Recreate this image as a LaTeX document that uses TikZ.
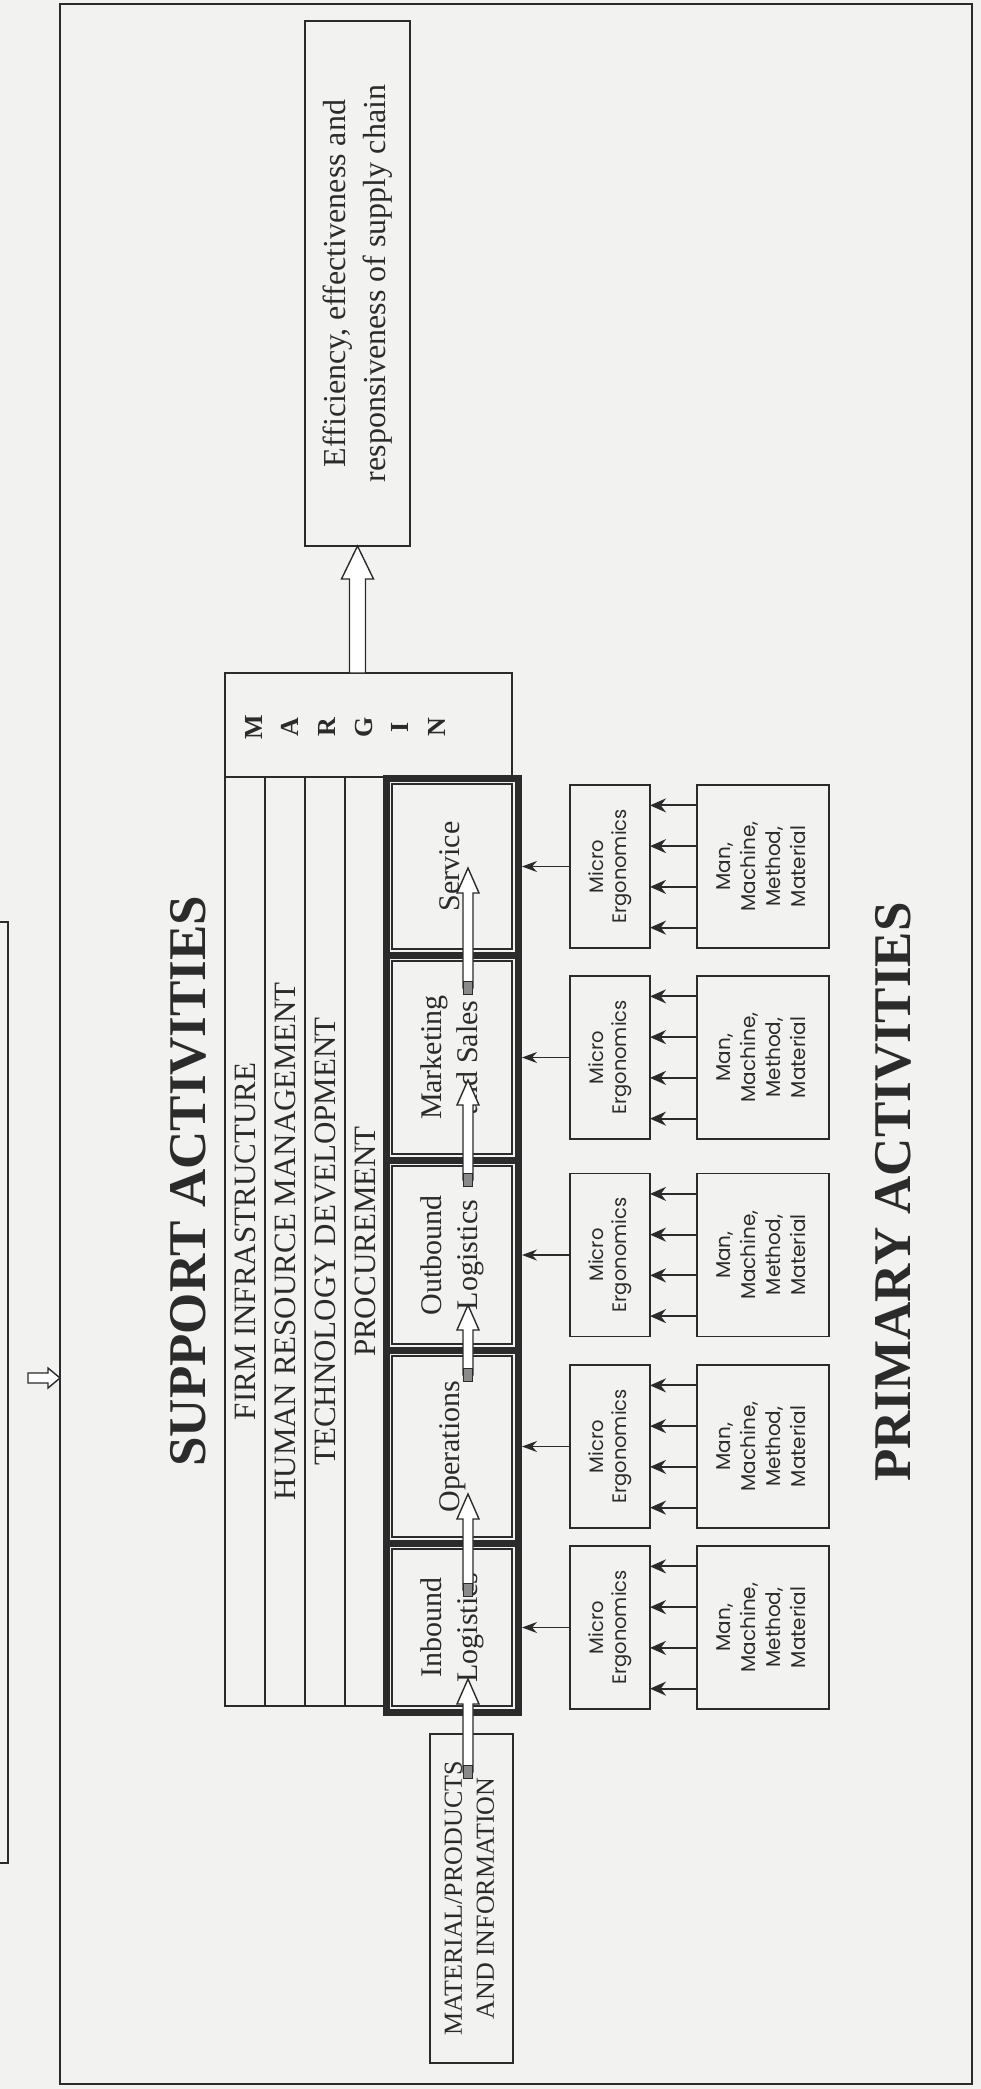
\documentclass[tikz,border=0pt]{standalone}
\usepackage{fontspec}
\setmainfont{Liberation Serif}
\newfontfamily\gothic{Poppins}
\usetikzlibrary{positioning,calc,arrows.meta}

\definecolor{scanbg}{HTML}{F2F2F1}
\definecolor{ink}{HTML}{2B2B2B}

\newcommand{\vtext}[1]{\rotatebox{90}{\begin{tabular}{@{}c@{}}#1\end{tabular}}}
% hollow block arrow: tail, tip, half shaft, half head, head length
\newcommand{\blockarrow}[5]{%
  \coordinate (hb) at ($(#2)!#5!(#1)$);
  \draw[hollow] ($(#1)!#3!90:(#2)$) -- ($(hb)!#3!90:(#2)$) -- ($(hb)!#4!90:(#2)$)
    -- (#2) -- ($(hb)!#4!-90:(#2)$) -- ($(hb)!#3!-90:(#2)$) -- ($(#1)!#3!-90:(#2)$) -- cycle;}

\begin{document}
\begin{tikzpicture}[
    x=1pt, y=-1pt,
    text=ink,
    box/.style={draw=ink, line width=1.6pt, inner sep=0pt, outer sep=0pt},
    strip/.style={box, line width=1.2pt, minimum width=40pt, minimum height=929pt,
        font=\fontsize{31}{36}\selectfont},
    cell/.style={draw=ink, line width=7pt, minimum width=132pt, inner sep=0pt, outer sep=0pt,
        font=\fontsize{30}{36}\selectfont,
        path picture={\draw[line width=1.2pt, draw=ink]
            ([shift={(6pt,6pt)}]path picture bounding box.south west) rectangle
            ([shift={(-6pt,-6pt)}]path picture bounding box.north east);}},
    micro/.style={box, minimum width=80pt, minimum height=163pt,
        font=\gothic\fontsize{19.5}{23}\selectfont},
    factors/.style={box, minimum width=132pt, minimum height=163pt,
        font=\gothic\fontsize{20}{25}\selectfont},
    title/.style={font=\bfseries\fontsize{53}{60}\selectfont},
    flow/.style={-{Stealth[length=15pt,width=11pt]}, draw=ink, line width=1.5pt},
    feed/.style={flow, -{Stealth[length=16pt,width=14pt]}, line width=2pt},
    hollow/.style={draw=ink, line width=1.4pt, fill=white, line join=miter},
    tailmark/.style={draw=ink, line width=0.8pt, fill=ink!55, minimum width=9pt,
        minimum height=13pt, inner sep=0pt}
]
    \useasboundingbox (0,0) rectangle (981,2089);
    \clip (0,0) rectangle (981,2089);
    \fill[scanbg] (0,0) rectangle (981,2089);

    % page frame and the page before
    \node[box, line width=2pt, minimum width=912pt, minimum height=2080pt] (frame) at (516,1044) {};
    \node[box, anchor=east, minimum width=100pt, minimum height=941pt] (prevpage) at (8,1392.5) {};

    % result
    \node[box, line width=2pt, minimum width=105pt, minimum height=525pt,
        font=\fontsize{32}{40}\selectfont] (eff) at (357.5,283.5)
        {\vtext{Efficiency, effectiveness and\\responsiveness of supply chain}};

    % support activities
    \node[title] (support) at (188,1181) {\rotatebox{90}{SUPPORT ACTIVITIES}};
    \node[strip] (firm) at (245,1241.5) {\rotatebox{90}{FIRM INFRASTRUCTURE}};
    \node[strip, right=0pt of firm] (hrm) {\rotatebox{90}{HUMAN RESOURCE MANAGEMENT}};
    \node[strip, right=0pt of hrm] (tech) {\rotatebox{90}{TECHNOLOGY DEVELOPMENT}};
    \node[strip, right=0pt of tech] (proc) {\rotatebox{90}{PROCUREMENT}};

    \node[box, minimum width=287pt, minimum height=104pt] (margin) at (368.5,725) {};
    \node[font=\bfseries\fontsize{26}{36.6}\selectfont] (marginword) at (346.5,727)
        {\vtext{M\\A\\R\\G\\I\\N}};

    % primary activities
    \node[cell, minimum height=177pt] (service) at (452,866.5) {\vtext{Service}};
    \node[cell, minimum height=205pt, below=0pt of service] (marketing) {\vtext{Marketing\\and Sales}};
    \node[cell, minimum height=190pt, below=0pt of marketing] (outbound) {\vtext{Outbound\\Logistics}};
    \node[cell, minimum height=193pt, below=0pt of outbound] (operations) {\vtext{Operations}};
    \node[cell, minimum height=169pt, below=0pt of operations] (inbound) {\vtext{Inbound\\Logistics}};

    \node[box, minimum width=83pt, minimum height=329pt, font=\fontsize{26}{32}\selectfont]
        (material) at (471.5,1898.5) {\vtext{MATERIAL/PRODUCTS\\AND INFORMATION}};

    \foreach \n in {service,marketing,outbound,operations,inbound} {
        \node[micro, right=52pt of \n] (micro-\n) {\vtext{Micro\\Ergonomics}};
        \node[factors, right=47pt of micro-\n] (man-\n) {\vtext{Man,\\Machine,\\Method,\\Material}};
        \draw[flow, shorten >=4pt] (micro-\n) -- (\n);
        \foreach \f in {0.125,0.375,0.625,0.875}
            \draw[feed] ($(man-\n.north west)!\f!(man-\n.south west)$)
                -- ($(micro-\n.north east)!\f!(micro-\n.south east)$);
    }

    \node[title] (primary) at (893,1192) {\rotatebox{90}{PRIMARY ACTIVITIES}};

    % hollow arrows
    \coordinate (mtop) at (margin.north -| eff.south);
    \blockarrow{mtop}{eff.south}{8pt}{16pt}{33pt}

    \coordinate (a0) at (468,1772); \coordinate (b0) at (468,1679);
    \coordinate (a1) at (468,1590); \coordinate (b1) at (468,1494);
    \coordinate (a2) at (468,1375); \coordinate (b2) at (468,1305);
    \coordinate (a3) at (468,1180); \coordinate (b3) at (468,1080);
    \coordinate (a4) at (468,988);  \coordinate (b4) at (468,868);
    \foreach \i in {0,...,4} {
        \blockarrow{a\i}{b\i}{5pt}{11pt}{25pt}
        \node[tailmark] at (a\i) {};
    }

    \coordinate (pp) at (28,1378);
    \coordinate (pq) at (pp -| frame.west);
    \blockarrow{pp}{pq}{5pt}{10pt}{12pt}
\end{tikzpicture}
\end{document}
